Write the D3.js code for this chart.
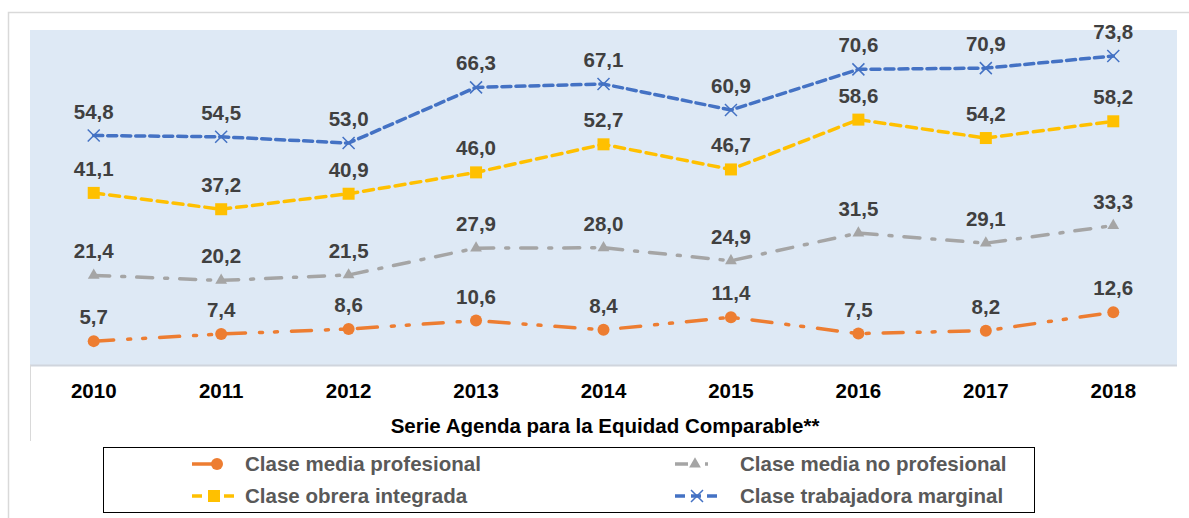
<!DOCTYPE html>
<html>
<head>
<meta charset="utf-8">
<script src="https://cdn.jsdelivr.net/npm/d3@7"></script>
<style>
  body { margin: 0; background: #fff; }
  svg text { font-family: "Liberation Sans", Arial, sans-serif; }
</style>
</head>
<body>
<svg id="chart"></svg>
<script>
// data
const years = ["2010", "2011", "2012", "2013", "2014", "2015", "2016", "2017", "2018"];
const mediaProfesional = [5.7, 7.4, 8.6, 10.6, 8.4, 11.4, 7.5, 8.2, 12.6];
const mediaNoProfesional = [21.4, 20.2, 21.5, 27.9, 28.0, 24.9, 31.5, 29.1, 33.3];
const obreraIntegrada = [41.1, 37.2, 40.9, 46.0, 52.7, 46.7, 58.6, 54.2, 58.2];
const trabajadoraMarginal = [54.8, 54.5, 53.0, 66.3, 67.1, 60.9, 70.6, 70.9, 73.8];
const axisTitle = "Serie Agenda para la Equidad Comparable**";

const series = [
  { name: "Clase media profesional", values: mediaProfesional, color: "#ED7D31", dash: "20,14,3,12,3,14", marker: "circle" },
  { name: "Clase media no profesional", values: mediaNoProfesional, color: "#A5A5A5", dash: "16,12,3,12", marker: "triangle" },
  { name: "Clase obrera integrada", values: obreraIntegrada, color: "#FFC000", dash: "10,6", marker: "square" },
  { name: "Clase trabajadora marginal", values: trabajadoraMarginal, color: "#4472C4", dash: "9,5", marker: "x" }
];

const width = 1189;
const height = 518;
const plot = { left: 30, right: 1177, top: 30, bottom: 365 };

const svg = d3.select("#chart")
  .attr("width", width)
  .attr("height", height);

// outer frame
svg.append("rect")
  .attr("x", 8.5).attr("y", 12.5)
  .attr("width", 1200).attr("height", 520)
  .attr("fill", "#fff")
  .attr("stroke", "#d9d9d9")
  .attr("stroke-width", 1.5);

// scales
const x = d3.scaleBand()
  .domain(years)
  .range([plot.left, plot.right]);

const y = d3.scaleLinear()
  .domain([0, 80])
  .range([plot.bottom, plot.top]);

const cx = d => x(d) + x.bandwidth() / 2;

// plot background
svg.append("rect")
  .attr("x", plot.left).attr("y", plot.top)
  .attr("width", plot.right - plot.left)
  .attr("height", plot.bottom - plot.top)
  .attr("fill", "#DEE9F5");

svg.append("line")
  .attr("x1", plot.left).attr("x2", plot.right)
  .attr("y1", plot.bottom + 0.5).attr("y2", plot.bottom + 0.5)
  .attr("stroke", "#d0d5dd").attr("stroke-width", 2);

svg.append("line")
  .attr("x1", plot.left + 0.5).attr("x2", plot.left + 0.5)
  .attr("y1", plot.bottom).attr("y2", 441)
  .attr("stroke", "#d9d9d9").attr("stroke-width", 1);

// x axis
const xAxis = svg.append("g")
  .attr("transform", `translate(0, ${plot.bottom})`)
  .call(d3.axisBottom(x).tickSize(0).tickPadding(18));
xAxis.select(".domain").remove();
xAxis.selectAll("text")
  .attr("font-size", 20.5)
  .attr("font-weight", "bold")
  .attr("fill", "#000")
  .attr("font-family", "Liberation Sans, Arial, sans-serif");

svg.append("text")
  .attr("x", 605)
  .attr("y", 433)
  .attr("text-anchor", "middle")
  .attr("font-size", 20.5)
  .attr("font-weight", "bold")
  .attr("fill", "#000")
  .text(axisTitle);

function drawMarker(g, type, color, px, py) {
  if (type === "circle") {
    g.append("circle").attr("cx", px).attr("cy", py).attr("r", 6).attr("fill", color);
  } else if (type === "square") {
    g.append("rect").attr("x", px - 6).attr("y", py - 6).attr("width", 12).attr("height", 12).attr("fill", color);
  } else if (type === "triangle") {
    g.append("path")
      .attr("d", d3.symbol(d3.symbolTriangle, 60)())
      .attr("transform", `translate(${px},${py})`)
      .attr("fill", color);
  } else if (type === "x") {
    g.append("path")
      .attr("d", `M${px - 6},${py - 6}L${px + 6},${py + 6}M${px - 6},${py + 6}L${px + 6},${py - 6}`)
      .attr("stroke", color).attr("stroke-width", 1.5).attr("fill", "none");
  }
}

const line = d3.line()
  .x((d, i) => cx(years[i]))
  .y(d => y(d));

// series
series.forEach(s => {
  const g = svg.append("g");
  g.append("path")
    .datum(s.values)
    .attr("d", line)
    .attr("fill", "none")
    .attr("stroke", s.color)
    .attr("stroke-width", 3.5)
    .attr("stroke-linecap", "round")
    .attr("stroke-dasharray", s.dash);
  s.values.forEach((v, i) => {
    drawMarker(g, s.marker, s.color, cx(years[i]), y(v));
  });
});

// labels
series.forEach(s => {
  svg.append("g").selectAll("text")
    .data(s.values)
    .join("text")
    .attr("x", (d, i) => cx(years[i]))
    .attr("y", d => y(d) - 17)
    .attr("text-anchor", "middle")
    .attr("font-size", 20.5)
    .attr("font-weight", "bold")
    .attr("fill", "#404040")
    .text(d => d3.format(".1f")(d).replace(".", ","));
});

// legend
svg.append("rect")
  .attr("x", 103.5).attr("y", 447.5)
  .attr("width", 931).attr("height", 65)
  .attr("fill", "#fff")
  .attr("stroke", "#000")
  .attr("stroke-width", 1);

const legendPos = [
  { x: 192, y: 464, tx: 245 },
  { x: 675, y: 464, tx: 740 },
  { x: 192, y: 496, tx: 245 },
  { x: 675, y: 496, tx: 740 }
];

series.forEach((s, i) => {
  const p = legendPos[i];
  const g = svg.append("g");
  let lineEnd = p.x + 42, markerX = p.x + 22, ldash = "10,6";
  if (s.marker === "circle") { lineEnd = p.x + 28; markerX = p.x + 25; ldash = null; }
  if (s.marker === "triangle") { ldash = "13,6,0,11,3,20"; markerX = p.x + 20; }
  g.append("line")
    .attr("x1", p.x).attr("x2", lineEnd)
    .attr("y1", p.y).attr("y2", p.y)
    .attr("stroke", s.color)
    .attr("stroke-width", 3.5)
    .attr("stroke-dasharray", ldash);
  drawMarker(g, s.marker, s.color, markerX, p.y);
  g.append("text")
    .attr("x", p.tx)
    .attr("y", p.y + 7)
    .attr("font-size", 20.5)
    .attr("font-weight", "bold")
    .attr("fill", "#595959")
    .text(s.name);
});
</script>
</body>
</html>
